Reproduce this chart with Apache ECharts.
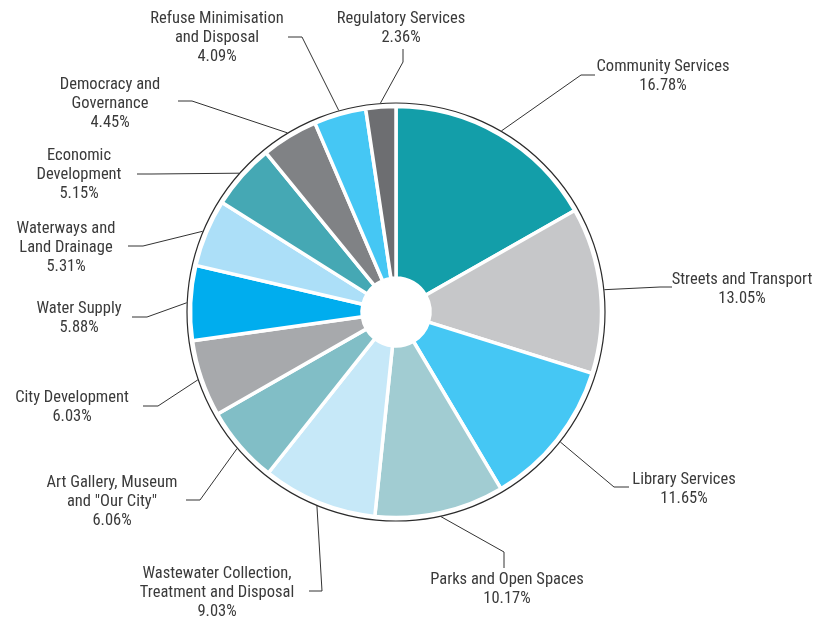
<!DOCTYPE html>
<html>
<head>
<meta charset="utf-8">
<script src="https://cdn.jsdelivr.net/npm/echarts@6/dist/echarts.min.js"></script>
<style>html,body{margin:0;padding:0;background:#fff;}#chart{width:826px;height:619px;}</style>
</head>
<body>
<div id="chart"></div>
<script>
// ---- data ----
const categories = [
  'Community Services',
  'Streets and Transport',
  'Library Services',
  'Parks and Open Spaces',
  'Wastewater Collection, Treatment and Disposal',
  'Art Gallery, Museum and "Our City"',
  'City Development',
  'Water Supply',
  'Waterways and Land Drainage',
  'Economic Development',
  'Democracy and Governance',
  'Refuse Minimisation and Disposal',
  'Regulatory Services'
];
const labelTexts = [
  'Community Services',
  'Streets and Transport',
  'Library Services',
  'Parks and Open Spaces',
  'Wastewater Collection,\nTreatment and Disposal',
  'Art Gallery, Museum\nand "Our City"',
  'City Development',
  'Water Supply',
  'Waterways and\nLand Drainage',
  'Economic\nDevelopment',
  'Democracy and\nGovernance',
  'Refuse Minimisation\nand Disposal',
  'Regulatory Services'
];
const shares = [16.78, 13.05, 11.65, 10.17, 9.03, 6.06, 6.03, 5.88, 5.31, 5.15, 4.45, 4.09, 2.36];

// ---- styles ----
const colors = ['#139ea9', '#c6c7c9', '#45c7f4', '#a1ccd2', '#c6e8f8', '#81bec6',
                '#a7a9ac', '#00adee', '#acdff8', '#45a8b4', '#808285', '#45c7f4', '#6d6e71'];
// label placement: c = text centre, e = elbow, t = line end
const labelLayouts = [
  {c:[663,76],  e:[581,75],  t:[595,75]},
  {c:[742,289], e:[660,287], t:[672,287]},
  {c:[684,489], e:[614,487], t:[629,487]},
  {c:[507,589], e:[504,552], t:[504,568]},
  {c:[217,593], e:[322,591], t:[309,591]},
  {c:[112,502], e:[200,500], t:[186,500]},
  {c:[72,407],  e:[158,406], t:[143,406]},
  {c:[79,318],  e:[147,317], t:[132,317]},
  {c:[66,248],  e:[143,246], t:[128,246]},
  {c:[79,175],  e:[152,174], t:[137,174]},
  {c:[110,104], e:[192,101], t:[178,101]},
  {c:[217,38],  e:[302,37],  t:[288,37]},
  {c:[401,28],  e:[403,62],  t:[403,49]}
];

const chart = echarts.init(document.getElementById('chart'), null, {renderer: 'canvas'});
const center = [396, 312];
chart.setOption({
  animation: false,
  backgroundColor: '#ffffff',
  series: [
    {
      type: 'pie',
      center: center,
      radius: [0, 209],
      silent: true,
      z: 1,
      label: {show: false},
      labelLine: {show: false},
      itemStyle: {color: 'rgba(0,0,0,0)', borderColor: '#2b2b2b', borderWidth: 1.2},
      data: [{value: 1, name: 'outline'}]
    },
    {
      type: 'pie',
      center: center,
      radius: [34, 205.5],
      startAngle: 90,
      clockwise: true,
      z: 2,
      avoidLabelOverlap: false,
      itemStyle: {borderColor: '#ffffff', borderWidth: 3.5},
      label: {
        show: true,
        position: 'outside',
        fontFamily: '"Roboto Condensed", Roboto, sans-serif',
        fontSize: 16.5,
        fontWeight: 400,
        lineHeight: 19,
        color: '#3a3a3a',
        formatter: function (p) { return labelTexts[p.dataIndex] + '\n' + p.value.toFixed(2) + '%'; }
      },
      labelLine: {show: true, length: 10, length2: 10, lineStyle: {color: '#333333', width: 1}},
      labelLayout: function (params) {
        const L = labelLayouts[params.dataIndex];
        const pts = params.labelLinePoints;
        let start = pts ? pts[0] : L.e;
        if (pts) {
          const dx = pts[1][0] - pts[0][0], dy = pts[1][1] - pts[0][1];
          const len = Math.sqrt(dx * dx + dy * dy) || 1;
          start = [pts[0][0] + dx / len * 4, pts[0][1] + dy / len * 4];
        }
        return {
          x: L.c[0], y: L.c[1], align: 'center', verticalAlign: 'middle',
          labelLinePoints: [start, L.e, L.t]
        };
      },
      data: categories.map(function (name, i) {
        return {name: name, value: shares[i], itemStyle: {color: colors[i]}};
      })
    }
  ]
});
</script>
</body>
</html>
